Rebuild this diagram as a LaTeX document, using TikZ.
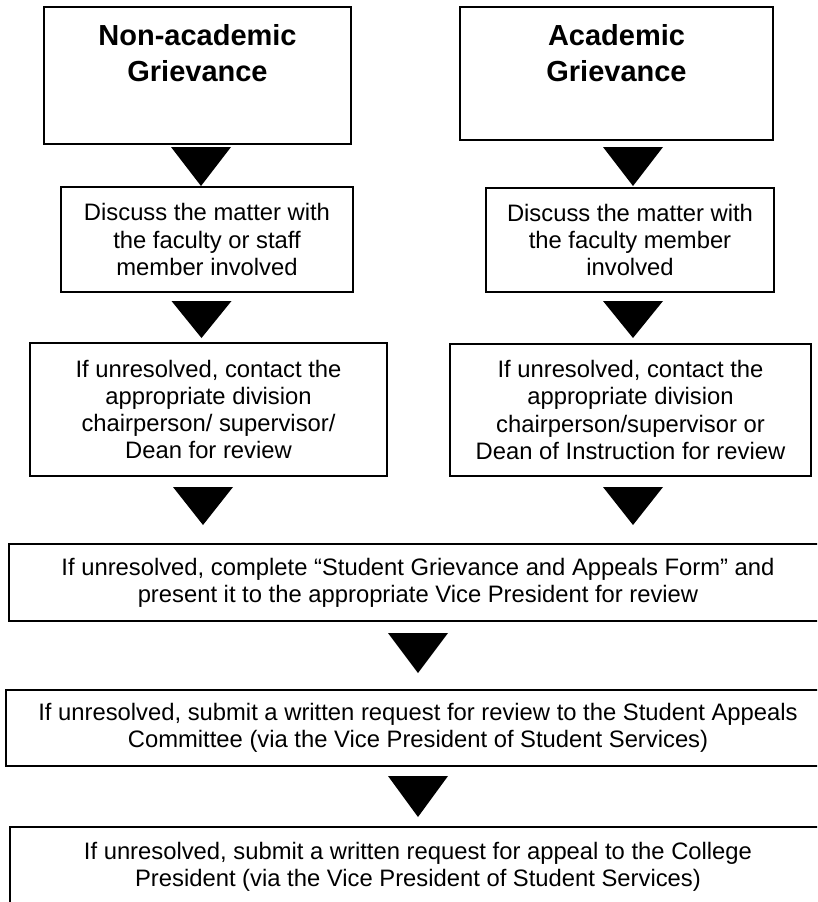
\documentclass[tikz,border=0pt]{standalone}
\usepackage{fontspec}
\setmainfont{Liberation Sans}
\begin{document}
\begin{tikzpicture}[x=1pt,y=-1pt,
  box/.style={draw=black, line width=1.8pt, rectangle, inner sep=0pt},
  txt/.style={align=center, inner sep=0pt, font=\fontsize{23.8pt}{27.2pt}\selectfont},
  ttl/.style={align=center, inner sep=0pt, font=\fontsize{29pt}{36pt}\selectfont\bfseries},
  tri/.style={fill=black}]
\useasboundingbox (0,0) rectangle (817,902);
\clip (0,0) rectangle (817,902);
\fill[white] (0,0) rectangle (817,902);
\newcommand{\dtri}[3]{\fill[tri] (#1-30,#2) -- (#1+30,#2) -- (#1,#3) -- cycle;}
% title boxes
\node[box, minimum width=307pt, minimum height=137pt] (na) at (197.5,75.5) {};
\node[ttl, anchor=north] (natitle) at (197.5,24) {Non-academic\\Grievance};
\node[box, minimum width=313pt, minimum height=133pt] (ac) at (616.5,73.5) {};
\node[ttl, anchor=north] (actitle) at (616.5,24) {Academic\\Grievance};
% discuss boxes
\node[box, minimum width=292pt, minimum height=105pt] (d1) at (207,239.5) {};
\node[txt] (d1t) at (d1.center) {Discuss the matter with\\the faculty or staff\\member involved};
\node[box, minimum width=288pt, minimum height=104pt] (d2) at (630,240) {};
\node[txt] (d2t) at (d2.center) {Discuss the matter with\\the faculty member\\involved};
% contact boxes
\node[box, minimum width=357pt, minimum height=133pt] (c1) at (208.5,409.5) {};
\node[txt] (c1t) at (c1.center) {If unresolved, contact the\\appropriate division\\chairperson/ supervisor/\\Dean for review};
\node[box, minimum width=361pt, minimum height=132pt] (c2) at (630.5,410) {};
\node[txt] (c2t) at (c2.center) {If unresolved, contact the\\appropriate division\\chairperson/supervisor or\\Dean of Instruction for review};
% bottom boxes
\node[box, minimum width=818pt, minimum height=77pt] (vp) at (418,582.5) {};
\node[txt] (vpt) at (vp.center) {If unresolved, complete “Student Grievance and Appeals Form” and\\present it to the appropriate Vice President for review};
\node[box, minimum width=824pt, minimum height=76pt] (sac) at (418,728) {};
\node[txt] (sact) at (sac.center) {If unresolved, submit a written request for review to the Student Appeals\\Committee (via the Vice President of Student Services)};
\node[box, minimum width=816pt, minimum height=79pt] (col) at (418,866.5) {};
\node[txt] (colt) at (col.center) {If unresolved, submit a written request for appeal to the College\\President (via the Vice President of Student Services)};
% block arrows
\dtri{201}{147}{186}
\dtri{633}{147}{186}
\dtri{201.5}{301}{338}
\dtri{633}{301}{338}
\dtri{203}{487}{525}
\dtri{633}{487}{525}
\dtri{418}{633}{673}
\dtri{418}{776}{817}
\end{tikzpicture}
\end{document}
